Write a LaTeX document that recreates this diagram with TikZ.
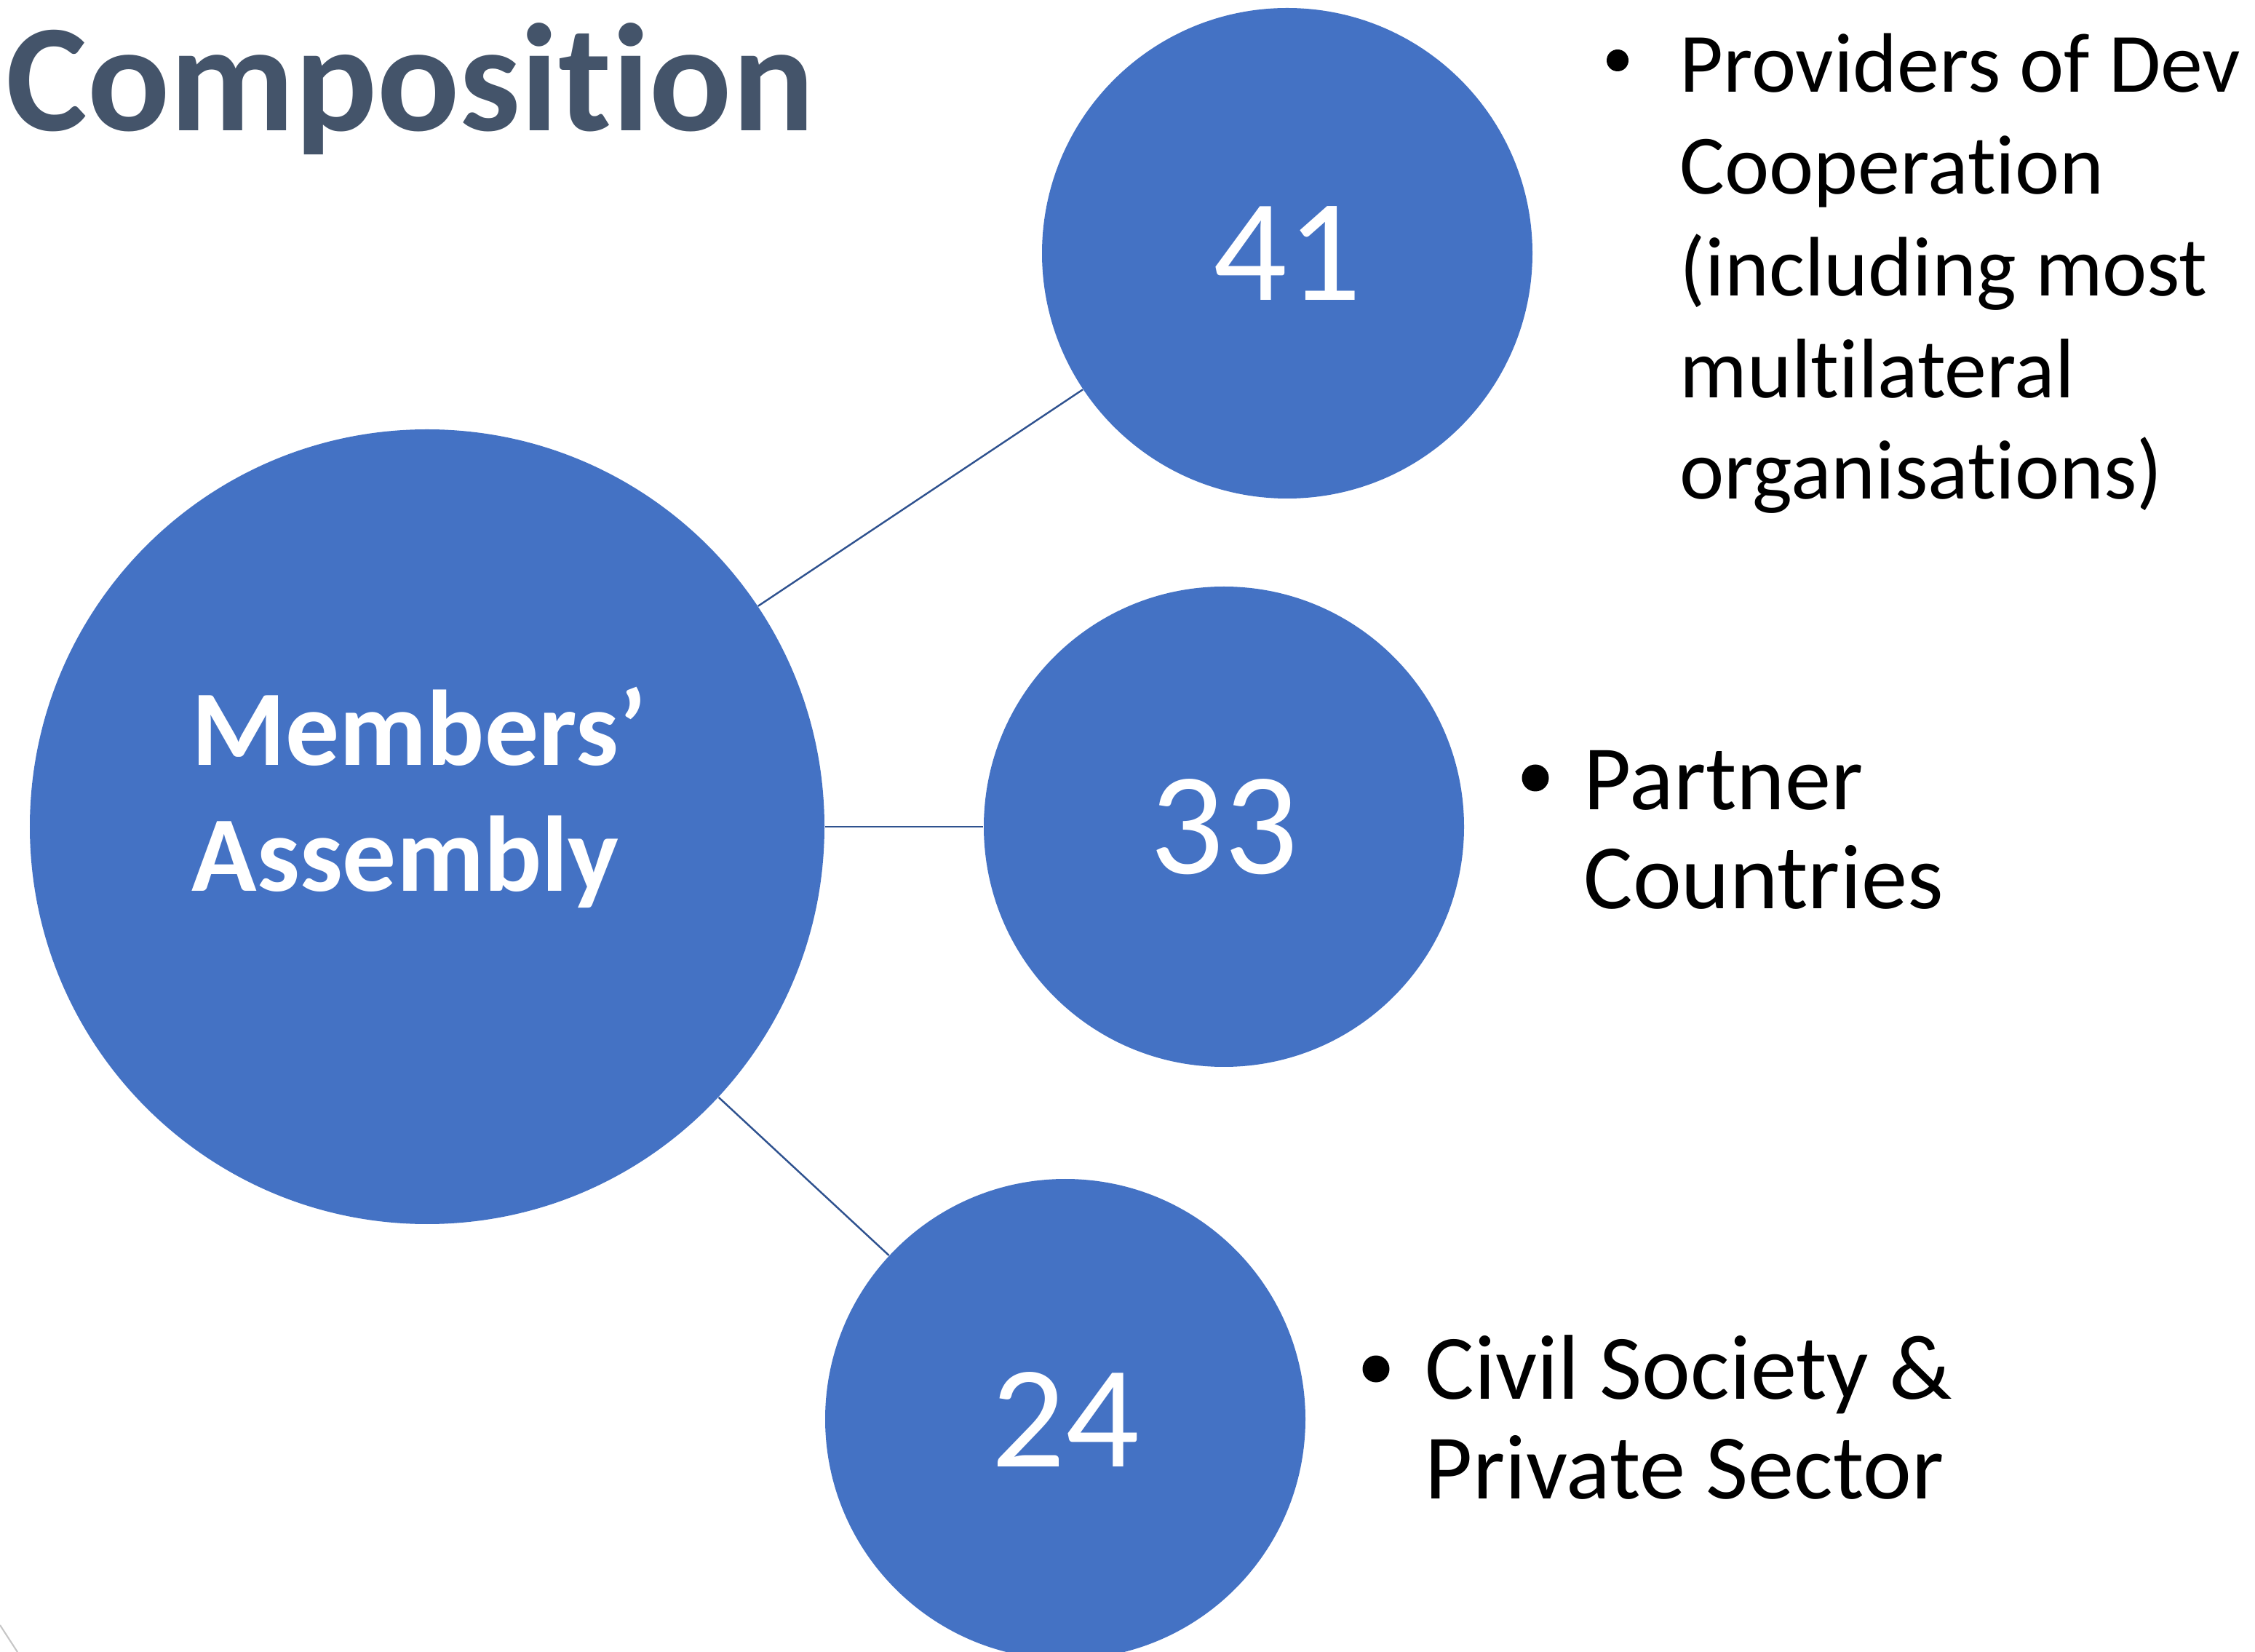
\documentclass[tikz,border=0pt]{standalone}
\usepackage{fontspec}
\setmainfont{Carlito}[Ligatures=NoCommon]
\usepackage{tikz}

\definecolor{bubbleblue}{HTML}{4472C4}
\definecolor{linkblue}{HTML}{2F528F}
\definecolor{slate}{HTML}{44546A}

\begin{document}
\begin{tikzpicture}[
    bubble/.style={circle, fill=bubbleblue, text=white, inner sep=0pt},
    link/.style={draw=linkblue, line width=0.7pt},
    dot/.style={circle, fill=black, inner sep=0pt, minimum size=#1},
    blurb/.style={anchor=base west, align=left, inner sep=0pt}
    ]
    \useasboundingbox (0,0) rectangle (30.99,-22.70);
    \node[anchor=base west, inner sep=0pt, text=slate,
        font=\bfseries\fontsize{60}{72}\selectfont] (title) at (0.08,-1.80) {Composition};

    \node[bubble, minimum size=10.92cm] (assembly) at (5.87,-11.36) {};
    \node[blurb, text=white, font=\bfseries\fontsize{42}{49.5}\selectfont]
        (assemblytext) at (2.63,-12.25) {Members’\\Assembly};
    \node[bubble, minimum size=6.74cm, font=\fontsize{57}{68}\selectfont] (providers) at (17.69,-3.48) {41};
    \node[bubble, minimum size=6.60cm, font=\fontsize{57}{68}\selectfont] (partners) at (16.82,-11.36) {33};
    \node[bubble, minimum size=6.60cm, font=\fontsize{57}{68}\selectfont] (society) at (14.64,-19.50) {24};
    \foreach \n in {providers,partners,society}
        \draw[link] (assembly) -- (\n);

    \node[dot=0.30cm] (b1) at (22.23,-0.83) {};
    \node[dot=0.37cm] (b2) at (21.10,-10.69) {};
    \node[dot=0.37cm] (b3) at (18.91,-18.81) {};
    \node[blurb, font=\fontsize{33}{39.8}\selectfont] (t1) at (23.08,-6.86)
        {Providers of Dev\\Cooperation\\(including most\\multilateral\\organisations)};
    \node[blurb, font=\fontsize{36}{38.8}\selectfont] (t2) at (21.76,-12.49)
        {Partner\\Countries};
    \node[blurb, font=\fontsize{36}{38.8}\selectfont] (t3) at (19.58,-20.59)
        {Civil Society \&\\Private Sector};

    % faint edge at the corner
    \draw[gray!45, line width=0.6pt] (0,-22.33) -- (0.24,-22.70);
\end{tikzpicture}
\end{document}
